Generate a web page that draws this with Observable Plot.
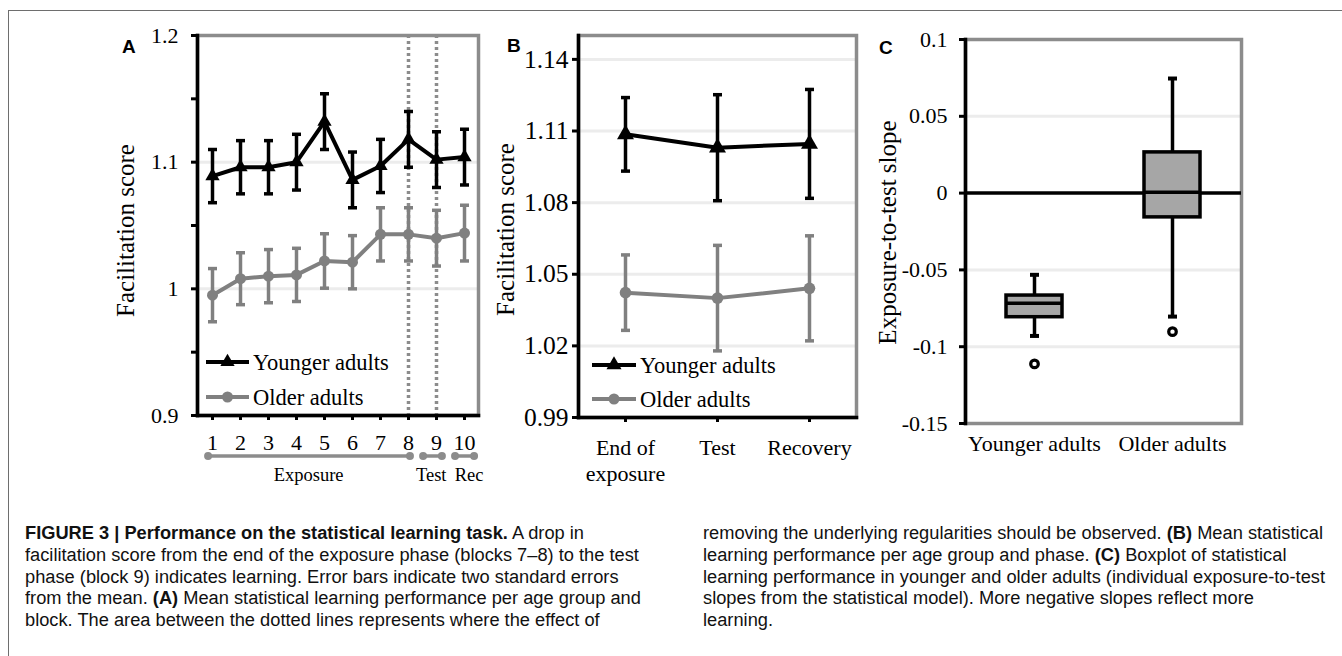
<!DOCTYPE html>
<html><head><meta charset="utf-8">
<script src="https://cdn.jsdelivr.net/npm/d3@7"></script>
<script src="https://cdn.jsdelivr.net/npm/@observablehq/plot@0.6"></script>
<style>
html,body{margin:0;padding:0;background:#fff;}
#fig{position:relative;width:1342px;height:656px;overflow:hidden;font-family:"Liberation Serif","Times New Roman",serif;color:#000;}
.frame{position:absolute;left:8px;top:10px;width:1400px;height:700px;border-top:1.5px solid #6e6e6e;border-left:1.5px solid #6e6e6e;}
.panel{position:absolute;top:0;}
.plabel{position:absolute;font-family:"Liberation Sans",Arial,sans-serif;font-weight:bold;font-size:19px;line-height:1;}
.cap{position:absolute;top:523px;font-family:"Liberation Sans",Arial,sans-serif;font-size:18px;line-height:21.8px;white-space:nowrap;color:#111;transform-origin:0 0;}
.cap span{display:block;}
.cap b{font-weight:bold;}
#overlay{position:absolute;left:0;top:0;pointer-events:none;}
</style></head>
<body>
<div id="fig">
  <div class="frame"></div>
  <div class="panel" id="pA" style="left:0px"></div>
  <div class="panel" id="pB" style="left:490px"></div>
  <div class="panel" id="pC" style="left:870px"></div>
  <div class="plabel" style="left:122px;top:37px">A</div>
  <div class="plabel" style="left:507px;top:36px">B</div>
  <div class="plabel" style="left:879px;top:38px">C</div>
  <div class="cap" id="capL" style="left:25px">
    <span><b>FIGURE 3 | Performance on the statistical learning task.</b> A drop in</span>
    <span id="refL">facilitation score from the end of the exposure phase (blocks 7–8) to the test</span>
    <span>phase (block 9) indicates learning. Error bars indicate two standard errors</span>
    <span>from the mean. <b>(A)</b> Mean statistical learning performance per age group and</span>
    <span>block. The area between the dotted lines represents where the effect of</span>
  </div>
  <div class="cap" id="capR" style="left:703px">
    <span id="refR">removing the underlying regularities should be observed. <b>(B)</b> Mean statistical</span>
    <span>learning performance per age group and phase. <b>(C)</b> Boxplot of statistical</span>
    <span>learning performance in younger and older adults (individual exposure-to-test</span>
    <span>slopes from the statistical model). More negative slopes reflect more</span>
    <span>learning.</span>
  </div>
  <svg id="overlay" width="1342" height="656"></svg>
</div>
<script>
// ---------- DATA ----------
const blocks = [1, 2, 3, 4, 5, 6, 7, 8, 9, 10];
const youngerA    = [1.089, 1.096, 1.096, 1.100, 1.132, 1.086, 1.097, 1.118, 1.102, 1.104];
const youngerAErr = [0.021, 0.021, 0.021, 0.022, 0.022, 0.022, 0.021, 0.022, 0.022, 0.022];
const olderA      = [0.995, 1.008, 1.010, 1.011, 1.022, 1.021, 1.043, 1.043, 1.040, 1.044];
const olderAErr   = [0.021, 0.0205, 0.021, 0.021, 0.0215, 0.021, 0.021, 0.021, 0.022, 0.022];
const dottedBlocks = [8, 9];
const yTicksA = [0.9, 0.95, 1, 1.05, 1.1, 1.15, 1.2];
const yLabelTicksA = [0.9, 1, 1.1, 1.2];
const gridA = [1, 1.1];
// phase brackets under panel A (in block units), label centre in block units
const phasesA = [
  {name: "Exposure", from: 0.86, to: 8.07, at: 4.45},
  {name: "Test", from: 8.54, to: 9.21, at: 8.83},
  {name: "Rec", from: 9.68, to: 10.36, at: 10.18}
];

const phases = ["End of exposure", "Test", "Recovery"];
const phaseLabels = ["End of\nexposure", "Test", "Recovery"];
const youngerB    = [1.1086, 1.1030, 1.1046];
const youngerBErr = [0.0154, 0.0222, 0.0228];
const olderB      = [1.0423, 1.0400, 1.0441];
const olderBErr   = [0.0158, 0.0221, 0.0220];
const yTicksB = [0.99, 1.02, 1.05, 1.08, 1.11, 1.14];
const gridB = [1.02, 1.05, 1.08, 1.11, 1.14];

const groups = ["Younger adults", "Older adults"];
const whiskerLo = [-0.0930, -0.0804];
const q1s       = [-0.0808, -0.0158];
const medians   = [-0.0717, 0.0006];
const q3s       = [-0.0667, 0.0265];
const whiskerHi = [-0.0532, 0.0746];
const outliers  = [-0.1112, -0.0902];
const yTicksC = [-0.15, -0.1, -0.05, 0, 0.05, 0.1];
const gridC = [-0.1, -0.05, 0.05];

const legendNames = ["Younger adults", "Older adults"];

// ---------- STYLE ----------
const BLACK = "#000", GREY = "#808080", BORDER = "#8c8c8c", GRID = "#ececec", BOXFILL = "#a6a6a6";
const serif = "Liberation Serif, Times New Roman, serif";
const capSymbol = {draw(ctx, size) { const r = Math.sqrt(size / Math.PI); ctx.moveTo(-r, 0); ctx.lineTo(r, 0); }};

const dataYA = blocks.map((b, i) => ({block: b, v: youngerA[i], e: youngerAErr[i]}));
const dataOA = blocks.map((b, i) => ({block: b, v: olderA[i], e: olderAErr[i]}));
const dataYB = phases.map((p, i) => ({phase: p, v: youngerB[i], e: youngerBErr[i]}));
const dataOB = phases.map((p, i) => ({phase: p, v: olderB[i], e: olderBErr[i]}));
const boxes = groups.map((g, i) => ({group: g, lo: whiskerLo[i], q1: q1s[i], med: medians[i], q3: q3s[i], hi: whiskerHi[i], out: outliers[i]}));

function seriesMarks(data, xKey, color, symbol, r, lw) {
  return [
    Plot.line(data, {x: xKey, y: "v", stroke: color, strokeWidth: lw}),
    Plot.ruleX(data, {x: xKey, y1: d => d.v - d.e, y2: d => d.v + d.e, stroke: color, strokeWidth: 3.5}),
    Plot.dot(data, {x: xKey, y: d => d.v - d.e, symbol: capSymbol, r: 4.5, stroke: color, strokeWidth: 3.5, fill: "none"}),
    Plot.dot(data, {x: xKey, y: d => d.v + d.e, symbol: capSymbol, r: 4.5, stroke: color, strokeWidth: 3.5, fill: "none"}),
    Plot.dot(data, {x: xKey, y: "v", symbol, r, fill: color, stroke: "none"})
  ];
}
function yTitle(text, dx, dy) {
  return Plot.text([text], {text: d => d, frameAnchor: "left", textAnchor: "middle", lineAnchor: "middle", rotate: -90, dx, dy, fontSize: 25, fill: BLACK});
}

const baseStyle = {fontFamily: serif, fontSize: "22px", color: "black", background: "transparent", overflow: "visible"};

// ---------- PANEL A ----------
const chartA = Plot.plot({
  width: 490, height: 500, marginLeft: 197, marginRight: 12, marginTop: 35, marginBottom: 85,
  style: baseStyle,
  x: {type: "band", domain: blocks, padding: 0},
  y: {domain: [0.9, 1.2]},
  marks: [
    Plot.ruleY(gridA, {stroke: GRID, strokeWidth: 3}),
    Plot.ruleX(dottedBlocks, {stroke: BORDER, strokeWidth: 3.5, strokeDasharray: "3,3"}),
    Plot.frame({stroke: BORDER, strokeWidth: 3.5}),
    Plot.frame({anchor: "left", stroke: BLACK, strokeWidth: 3.5}),
    Plot.frame({anchor: "bottom", stroke: BLACK, strokeWidth: 3.5}),
    Plot.axisY({ticks: yTicksA, tickFormat: d => yLabelTicksA.includes(d) ? String(d) : "", tickSize: 6, tickPadding: 13, strokeWidth: 3, fontSize: 22, label: null}),
    Plot.axisX({ticks: blocks, tickSize: 5, tickPadding: 14, strokeWidth: 3, fontSize: 22, label: null}),
    yTitle("Facilitation score", -72, 5),
    ...seriesMarks(dataOA, "block", GREY, "circle", 5.5, 4),
    ...seriesMarks(dataYA, "block", BLACK, "triangle", 5.3, 4)
  ]
});
document.getElementById("pA").appendChild(chartA);

// ---------- PANEL B ----------
const chartB = Plot.plot({
  width: 380, height: 500, marginLeft: 88, marginRight: 14, marginTop: 35, marginBottom: 83,
  style: baseStyle,
  x: {type: "band", domain: phases, padding: 0},
  y: {domain: [0.99, 1.15]},
  marks: [
    Plot.ruleY(gridB, {stroke: GRID, strokeWidth: 3}),
    Plot.frame({stroke: BORDER, strokeWidth: 3.5}),
    Plot.frame({anchor: "left", stroke: BLACK, strokeWidth: 3.5}),
    Plot.frame({anchor: "bottom", stroke: BLACK, strokeWidth: 3.5}),
    Plot.axisY({ticks: yTicksB, tickFormat: d => d.toFixed(2), tickSize: 6, tickPadding: 4, strokeWidth: 3, fontSize: 25.5, label: null}),
    Plot.axisX({ticks: phases, tickFormat: d => phaseLabels[phases.indexOf(d)], tickSize: 5, tickPadding: 15, strokeWidth: 3, fontSize: 22, lineHeight: 1.15, label: null}),
    yTitle("Facilitation score", -73, 3),
    ...seriesMarks(dataOB, "phase", GREY, "circle", 5.8, 4),
    ...seriesMarks(dataYB, "phase", BLACK, "triangle", 6.3, 4)
  ]
});
document.getElementById("pB").appendChild(chartB);

// ---------- PANEL C ----------
const chartC = Plot.plot({
  width: 472, height: 500, marginLeft: 95, marginRight: 101, marginTop: 39, marginBottom: 77,
  style: baseStyle,
  x: {type: "band", domain: groups, paddingInner: 0.594, paddingOuter: 0.297},
  y: {domain: [-0.15, 0.1]},
  marks: [
    Plot.ruleY(gridC, {stroke: GRID, strokeWidth: 3}),
    Plot.frame({stroke: BORDER, strokeWidth: 3.5}),
    Plot.frame({anchor: "left", stroke: BLACK, strokeWidth: 3.5}),
    Plot.axisY({ticks: yTicksC, tickFormat: d => String(d), tickSize: 6, tickPadding: 12, strokeWidth: 3, fontSize: 22, label: null}),
    Plot.axisX({ticks: groups, tickSize: 0, tickPadding: 12, fontSize: 22, label: null}),
    yTitle("Exposure-to-test slope", -78, 1),
    Plot.ruleY([0], {stroke: BLACK, strokeWidth: 3.5}),
    Plot.ruleX(boxes, {x: "group", y1: "lo", y2: "q1", stroke: BLACK, strokeWidth: 3.5}),
    Plot.ruleX(boxes, {x: "group", y1: "q3", y2: "hi", stroke: BLACK, strokeWidth: 3.5}),
    Plot.dot(boxes, {x: "group", y: "lo", symbol: capSymbol, r: 4.5, stroke: BLACK, strokeWidth: 4, fill: "none"}),
    Plot.dot(boxes, {x: "group", y: "hi", symbol: capSymbol, r: 4.5, stroke: BLACK, strokeWidth: 4, fill: "none"}),
    Plot.barY(boxes, {x: "group", y1: "q1", y2: "q3", fill: BOXFILL, stroke: BLACK, strokeWidth: 3.5}),
    Plot.tickY(boxes, {x: "group", y: "med", stroke: BLACK, strokeWidth: 3.5}),
    Plot.dot(boxes, {x: "group", y: "out", r: 3.8, fill: "white", stroke: BLACK, strokeWidth: 3.2})
  ]
});
document.getElementById("pC").appendChild(chartC);

// ---------- OVERLAY: legends and phase brackets ----------
const ov = d3.select("#overlay");
function legend(x0, x1, ys, size) {
  const mk = [{color: BLACK, sym: d3.symbolTriangle, s: size[0]}, {color: GREY, sym: d3.symbolCircle, s: size[1]}];
  legendNames.forEach((name, i) => {
    const y = ys[i], m = mk[i];
    ov.append("line").attr("x1", x0).attr("x2", x1).attr("y1", y).attr("y2", y).attr("stroke", m.color).attr("stroke-width", 4);
    ov.append("path").attr("d", d3.symbol(m.sym, m.s)()).attr("transform", `translate(${(x0 + x1) / 2},${y})`).attr("fill", m.color);
    ov.append("text").attr("x", x1 + 4).attr("y", y).attr("dy", "0.34em").attr("font-family", serif).attr("font-size", 22.5).text(name);
  });
}
legend(206, 249, [362, 397], [Math.PI * 5.3 * 5.3, Math.PI * 5.5 * 5.5]);
legend(592, 636, [365, 399], [Math.PI * 5.6 * 5.6, Math.PI * 5.5 * 5.5]);

const xsA = chartA.scale("x");
const step = xsA.bandwidth;
const c1 = xsA.apply(1) + step / 2;
const bx = b => c1 + (b - 1) * step;
phasesA.forEach(p => {
  const a = bx(p.from), b = bx(p.to), y = 456;
  ov.append("line").attr("x1", a).attr("x2", b).attr("y1", y).attr("y2", y).attr("stroke", BORDER).attr("stroke-width", 3.5);
  [a, b].forEach(x => ov.append("circle").attr("cx", x).attr("cy", y).attr("r", 4).attr("fill", BORDER));
  ov.append("text").attr("x", bx(p.at)).attr("y", 475).attr("dy", "0.34em").attr("text-anchor", "middle")
    .attr("font-family", serif).attr("font-size", 18.5).text(p.name);
});

// ---------- caption width fit (emulate condensed face) ----------
const wR = document.getElementById("refR").getBoundingClientRect().width;
const k = 622 / wR;
document.getElementById("capL").style.transform = `scaleX(${k})`;
document.getElementById("capR").style.transform = `scaleX(${k})`;
</script>
</body></html>
